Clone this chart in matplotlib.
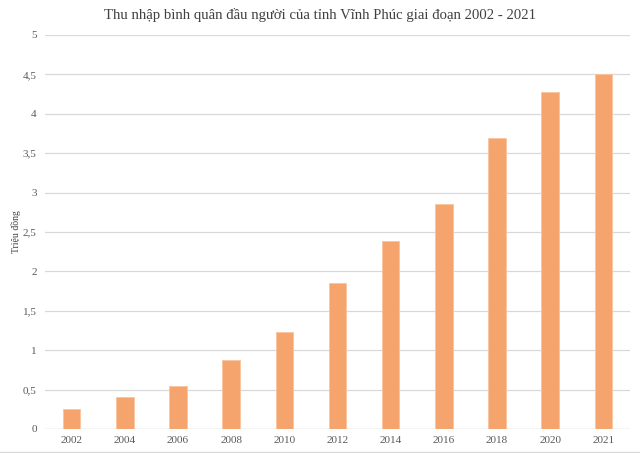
import matplotlib
matplotlib.use("Agg")
import matplotlib.pyplot as plt
from matplotlib.lines import Line2D

years = ["2002", "2004", "2006", "2008", "2010", "2012", "2014", "2016", "2018", "2020", "2021"]
income = [0.26, 0.41, 0.55, 0.88, 1.23, 1.85, 2.38, 2.86, 3.69, 4.28, 4.51]
yticks = [0, 0.5, 1, 1.5, 2, 2.5, 3, 3.5, 4, 4.5, 5]
ytick_labels = ["0", "0,5", "1", "1,5", "2", "2,5", "3", "3,5", "4", "4,5", "5"]
title = "Thu nhập bình quân đầu người của tỉnh Vĩnh Phúc giai đoạn 2002 - 2021"
ylabel = "Triệu đồng"

plt.rcParams['font.family'] = ['Liberation Serif', 'DejaVu Serif']

fig = plt.figure(figsize=(6.4, 4.53), dpi=100)
ax = fig.add_axes([45/640, (453-429)/453, 585/640, (429-35)/453])

x = list(range(len(years)))
ax.bar(x, income, width=0.33, color="#F4A46C", edgecolor="#F8C49C", linewidth=0.6, zorder=3)
ax.set_xlim(-0.5, len(years) - 0.5)
ax.set_ylim(0, 5)
ax.set_yticks(yticks)
ax.set_yticklabels(ytick_labels)
ax.set_xticks(x)
ax.set_xticklabels(years)
ax.yaxis.grid(True, color="#D9D9D9", linewidth=0.9, zorder=0)
ax.tick_params(axis='both', length=0, labelsize=8, colors="#595959")
ax.tick_params(axis='x', pad=5)
ax.tick_params(axis='y', pad=6)
for s in ax.spines.values():
    s.set_visible(False)
ax.axhline(0, color="#D9D9D9", linewidth=0.9, zorder=2)

fig.text(16/640, 1 - 232/453, ylabel, rotation=90, fontsize=7, color="#404040", ha="center", va="center")

fig.text(0.5, 1 - 15/453, title, fontsize=10.6, color="#404040", ha="center", va="center")

fig.add_artist(Line2D([0, 1], [1 - 451.5/453, 1 - 451.5/453], color="#D9D9D9", linewidth=1, transform=fig.transFigure))

fig.savefig("out.png", dpi=100)
